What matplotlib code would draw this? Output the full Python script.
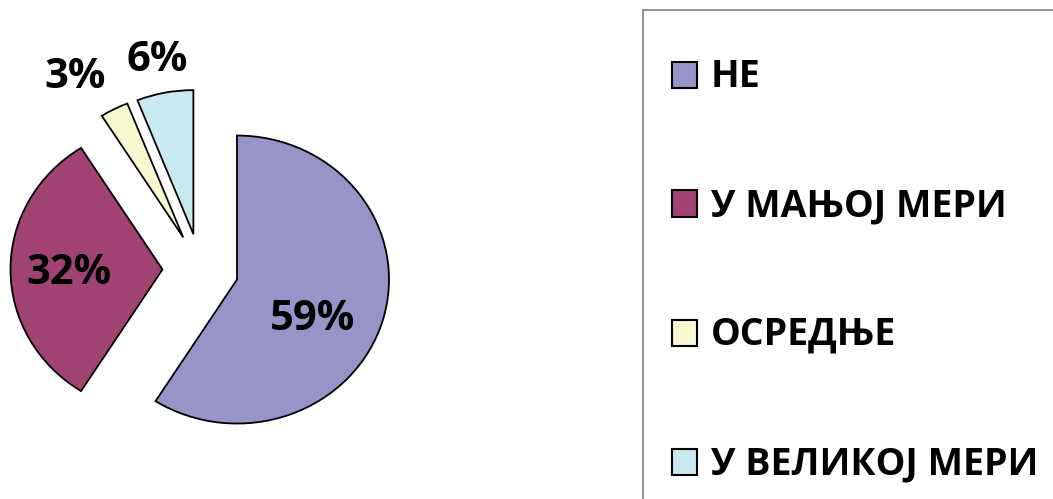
import matplotlib
matplotlib.use("Agg")
import matplotlib.pyplot as plt
from matplotlib.patches import Rectangle

# ---- data ----
categories = ["НЕ", "У МАЊОЈ МЕРИ", "ОСРЕДЊЕ", "У ВЕЛИКОЈ МЕРИ"]
values = [59, 32, 3, 6]
colors = ["#9794C8", "#A04272", "#F8F8D0", "#C9E9F1"]

FONT = ["Open Sans", "DejaVu Sans"]
W, H = 1053, 499
fig = plt.figure(figsize=(W / 100, H / 100), dpi=100)
fig.patch.set_facecolor("white")

# pie axes: left part of figure (slightly wider than tall, as in reference)
ax = fig.add_axes([0, 0, 643 / W, 1])
RX, RY = 152.0, 144.0      # px per data unit
cx, cy = 200.5, 269.5      # pixel centre (from top)
wedges, _ = ax.pie(values, colors=colors, startangle=90, counterclock=False,
                   explode=[0.25] * len(values), radius=1.0,
                   wedgeprops=dict(edgecolor="black", linewidth=1.3))
ax.set_aspect("auto")
ax.set_xlim(-cx / RX, (643 - cx) / RX)
ax.set_ylim(-(H - cy) / RY, cy / RY)
ax.axis("off")

# percentage labels (layout positions in data units)
label_pos = [(0.740, -0.35), (-0.868, -0.03), (-0.826, 1.33), (-0.286, 1.45)]
for v, (x, y) in zip(values, label_pos):
    ax.text(x, y, f"{v}%", ha="center", va="center", fontsize=30,
            fontweight="bold", family=FONT, color="black")

# legend frame
fig.add_artist(Rectangle((643 / W, -0.05), (W + 20 - 643) / W, 1.05 - 10 / H,
                         transform=fig.transFigure, facecolor="none",
                         edgecolor="#7f7f7f", linewidth=1.2, clip_on=False))

# legend entries
row_y = [74.5, 203.5, 332.5, 461.5]
text_y = [72.5, 201.5, 330.5, 459.5]
sq_w, sq_h = 25, 26
for cat, col, yy, ty in zip(categories, colors, row_y, text_y):
    fig.add_artist(Rectangle((672 / W, 1 - (yy + sq_h / 2) / H), sq_w / W, sq_h / H,
                             transform=fig.transFigure, facecolor=col,
                             edgecolor="black", linewidth=1.5))
    fig.text(711 / W, 1 - ty / H, cat, ha="left", va="center_baseline",
             fontsize=27, fontweight="bold", family=FONT, color="black")

fig.savefig("out.png", dpi=100)
